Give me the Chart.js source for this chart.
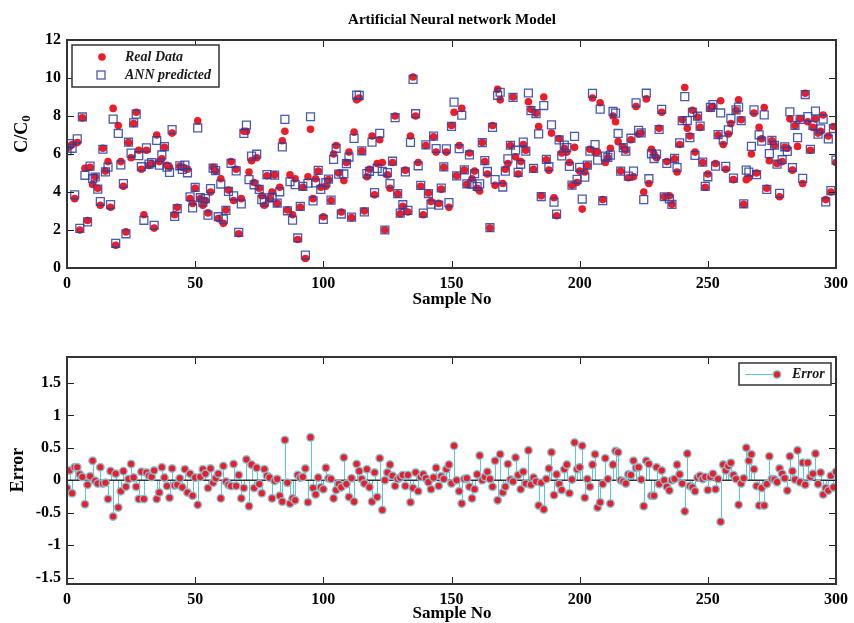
<!DOCTYPE html>
<html>
<head>
<meta charset="utf-8">
<title>Artificial Neural network Model</title>
<script src="https://cdn.jsdelivr.net/npm/chart.js@4.4.0/dist/chart.umd.min.js"></script>
<style>
  body { margin: 0; background: #fff; }
  #wrap { position: relative; width: 854px; height: 623px; overflow: hidden; }
  canvas { position: absolute; left: 0; }
  #topChart { top: 0; }
  #errChart { top: 315px; }
</style>
</head>
<body>
<div id="wrap">
  <canvas id="topChart" width="854" height="315"></canvas>
  <canvas id="errChart" width="854" height="308"></canvas>
</div>
<script>
// Sample numbers (x axis)
const sampleNo = Array.from({ length: 301 }, (_, i) => i);

// Measured C/C0 values (red markers)
const realData = [
  6.3, 6.4, 6.5, 3.65, 6.6, 2.0, 7.9, 5.25, 2.5, 5.3,
  4.4, 4.8, 4.2, 3.3, 6.3, 5.1, 5.6, 3.2, 8.4, 1.2,
  7.5, 5.6, 4.3, 1.9, 6.6, 5.8, 7.6, 8.2, 6.2, 5.2,
  2.8, 6.2, 5.4, 5.5, 2.1, 7.0, 5.6, 5.75, 6.35, 5.4,
  5.3, 7.1, 2.8, 3.2, 5.35, 5.3, 5.25, 5.2, 3.65, 3.4,
  4.2, 7.75, 3.65, 3.3, 3.55, 2.9, 4.0, 5.3, 5.1, 2.6,
  4.7, 2.35, 3.05, 4.1, 5.6, 3.55, 5.2, 1.8, 3.65, 7.2,
  7.2, 5.05, 5.65, 4.5, 5.8, 4.2, 3.8, 3.3, 4.85, 3.65,
  4.0, 4.9, 3.4, 4.25, 6.7, 7.2, 3.05, 4.9, 2.8, 4.7,
  1.5, 3.2, 4.25, 0.5, 4.8, 7.3, 3.65, 4.7, 5.1, 4.25,
  2.7, 4.3, 4.65, 3.55, 6.0, 6.45, 5.0, 2.95, 4.6, 5.55,
  6.1, 2.65, 7.15, 8.85, 8.95, 6.15, 3.0, 4.8, 5.2, 6.95,
  3.85, 5.5, 6.75, 5.55, 2.0, 4.9, 4.2, 5.55, 8.0, 3.9,
  2.85, 3.25, 5.15, 2.95, 6.95, 10.05, 8.0, 5.55, 4.3, 2.8,
  6.45, 3.95, 3.5, 6.9, 6.1, 3.4, 4.15, 5.3, 6.1, 3.2,
  7.5, 8.2, 4.85, 6.45, 8.4, 5.15, 4.4, 6.05, 4.7, 5.1,
  4.2, 4.05, 6.6, 5.6, 4.95, 2.1, 7.5, 4.35, 9.4, 8.85,
  4.45, 5.2, 5.5, 6.45, 9.0, 5.85, 4.95, 5.6, 6.5, 6.2,
  8.75, 8.35, 5.2, 8.15, 7.45, 3.8, 9.0, 5.7, 5.15, 7.1,
  3.7, 2.75, 6.8, 6.05, 6.3, 6.1, 5.55, 4.35, 6.35, 4.5,
  5.1, 3.1, 5.05, 5.4, 6.25, 8.95, 6.1, 6.1, 8.7, 3.6,
  5.55, 5.8, 6.3, 8.0, 7.7, 6.65, 5.1, 6.35, 6.2, 4.75,
  6.75, 4.8, 8.5, 7.05, 7.1, 4.0, 8.9, 4.45, 6.25, 6.0,
  5.8, 7.35, 8.2, 3.75, 5.6, 3.8, 3.35, 5.75, 5.05, 6.5,
  7.8, 9.5, 7.35, 6.95, 8.3, 6.1, 7.95, 7.4, 5.55, 4.25,
  4.95, 8.4, 8.5, 5.5, 7.0, 8.8, 6.5, 5.2, 7.05, 7.6,
  4.65, 8.3, 8.85, 7.8, 3.35, 4.65, 4.75, 6.0, 8.15, 5.0,
  7.4, 6.8, 8.45, 4.2, 5.65, 6.7, 6.45, 5.5, 3.75, 5.6,
  6.35, 6.3, 7.85, 5.15, 7.5, 6.4, 7.85, 4.45, 9.2, 7.7,
  6.2, 7.4, 7.85, 7.1, 7.2, 8.05, 3.6, 6.95, 4.0, 7.45, 5.55
];

// ANN predicted C/C0 values (blue squares)
const annPredicted = [
  6.18, 6.55, 6.3, 3.85, 6.8, 2.09, 7.95, 4.88, 2.43, 5.36,
  4.7, 4.79, 4.15, 3.5, 6.25, 5.06, 5.31, 3.34, 7.84, 1.3,
  7.08, 5.43, 4.44, 1.8, 6.62, 6.05, 7.64, 8.1, 5.91, 5.33,
  2.51, 6.32, 5.47, 5.55, 2.25, 6.71, 5.41, 5.95, 6.39, 5.31,
  5.03, 7.28, 2.72, 3.13, 5.38, 5.19, 5.42, 5.01, 3.75, 3.16,
  4.24, 7.37, 3.7, 3.47, 3.65, 2.78, 4.18, 5.26, 5.13, 2.7,
  4.42, 2.57, 3.03, 4.03, 5.51, 3.8, 5.11, 1.88, 3.37, 7.08,
  7.52, 4.65, 5.89, 4.38, 5.99, 4.14, 3.6, 3.47, 4.92, 3.69,
  3.72, 4.89, 3.42, 4.01, 6.37, 7.82, 3.01, 4.54, 2.52, 4.39,
  1.58, 3.24, 4.3, 0.68, 4.46, 7.96, 3.53, 4.48, 5.14, 4.14,
  2.56, 4.49, 4.68, 3.57, 5.72, 6.3, 4.94, 2.84, 4.95, 5.49,
  5.84, 2.68, 6.82, 9.1, 9.09, 6.17, 2.95, 4.97, 5.09, 6.62,
  3.97, 5.24, 7.09, 5.09, 2.0, 5.02, 4.44, 5.62, 7.91, 3.92,
  2.89, 3.33, 5.06, 3.03, 6.61, 9.93, 8.12, 5.38, 4.35, 2.89,
  6.48, 3.92, 3.36, 6.94, 6.29, 3.31, 4.21, 5.32, 6.27, 3.44,
  7.45, 8.73, 4.85, 6.28, 8.04, 5.17, 4.43, 5.95, 4.42, 4.96,
  4.29, 4.43, 6.6, 5.65, 5.08, 2.12, 7.4, 4.65, 9.09, 9.25,
  4.26, 5.1, 5.75, 6.46, 8.98, 6.2, 5.03, 5.46, 6.63, 6.15,
  9.21, 8.28, 5.24, 8.13, 7.06, 3.76, 8.55, 5.72, 5.33, 7.53,
  3.47, 2.84, 6.74, 5.9, 6.47, 6.34, 5.35, 4.36, 6.93, 4.67,
  5.3, 3.63, 4.78, 5.42, 6.15, 9.19, 6.5, 5.68, 8.36, 3.54,
  5.89, 5.82, 5.94, 8.24, 8.15, 7.08, 5.1, 6.33, 6.15, 4.84,
  6.83, 5.1, 8.69, 7.25, 7.11, 3.6, 9.2, 4.7, 6.01, 5.76,
  6.0, 7.29, 8.35, 3.75, 5.5, 3.64, 3.35, 5.77, 5.29, 6.59,
  7.75, 9.02, 7.76, 6.86, 8.19, 5.93, 7.99, 7.47, 5.57, 4.3,
  4.8, 8.45, 8.6, 5.36, 7.02, 8.16, 6.74, 5.35, 7.27, 7.87,
  4.73, 8.32, 8.47, 7.75, 3.38, 5.15, 5.05, 6.4, 8.32, 4.91,
  7.01, 6.68, 8.06, 4.14, 6.02, 6.72, 6.46, 5.47, 3.93, 5.7,
  6.38, 6.14, 8.22, 5.29, 7.51, 6.86, 7.82, 4.72, 9.13, 7.97,
  6.25, 7.5, 8.26, 7.04, 7.32, 7.83, 3.48, 6.79, 4.07, 7.34, 5.68
];

// Prediction error (lower panel)
const errorValues = [
  -0.12, 0.15, -0.2, 0.2, 0.2, 0.09, 0.05, -0.37, -0.07, 0.06,
  0.3, -0.01, -0.05, 0.2, -0.05, -0.04, -0.29, 0.14, -0.56, 0.1,
  -0.42, -0.17, 0.14, -0.1, 0.02, 0.25, 0.04, -0.1, -0.29, 0.13,
  -0.29, 0.12, 0.07, 0.05, 0.15, -0.29, -0.19, 0.2, 0.04, -0.09,
  -0.27, 0.18, -0.08, -0.07, 0.03, -0.11, 0.17, -0.19, 0.1, -0.24,
  0.04, -0.38, 0.05, 0.17, 0.1, -0.12, 0.18, -0.04, 0.03, 0.1,
  -0.28, 0.22, -0.02, -0.07, -0.09, 0.25, -0.09, 0.08, -0.28, -0.12,
  0.32, -0.4, 0.24, -0.12, 0.19, -0.06, -0.2, 0.17, 0.07, 0.04,
  -0.28, -0.01, 0.02, -0.24, -0.33, 0.62, -0.04, -0.36, -0.28, -0.31,
  0.08, 0.04, 0.05, 0.18, -0.34, 0.66, -0.12, -0.22, 0.04, -0.11,
  -0.14, 0.19, 0.03, 0.02, -0.28, -0.15, -0.06, -0.11, 0.35, -0.06,
  -0.26, 0.03, -0.33, 0.25, 0.14, 0.02, -0.05, 0.17, -0.11, -0.33,
  0.12, -0.26, 0.34, -0.46, 0.0, 0.12, 0.24, 0.07, -0.09, 0.02,
  0.04, 0.08, -0.09, 0.08, -0.34, -0.12, 0.12, -0.17, 0.05, 0.09,
  0.03, -0.03, -0.14, 0.04, 0.19, -0.09, 0.06, 0.02, 0.17, 0.24,
  -0.05, 0.53, 0.0, -0.17, -0.36, 0.02, 0.03, -0.1, -0.28, -0.14,
  0.09, 0.38, 0.0, 0.05, 0.13, 0.02, -0.1, 0.3, -0.31, 0.4,
  -0.19, -0.1, 0.25, 0.01, -0.02, 0.35, 0.08, -0.14, 0.13, -0.05,
  0.46, -0.07, 0.04, -0.02, -0.39, -0.04, -0.45, 0.02, 0.18, 0.43,
  -0.23, 0.09, -0.06, -0.15, 0.17, 0.24, -0.2, 0.01, 0.58, 0.17,
  0.2, 0.53, -0.27, 0.02, -0.1, 0.24, 0.4, -0.42, -0.34, -0.06,
  0.34, 0.02, -0.36, 0.24, 0.45, 0.43, 0.0, -0.02, -0.05, 0.09,
  0.08, 0.3, 0.19, 0.2, 0.01, -0.4, 0.3, 0.25, -0.24, -0.24,
  0.2, -0.06, 0.15, 0.0, -0.1, -0.16, 0.0, 0.02, 0.24, 0.09,
  -0.05, -0.48, 0.41, -0.09, -0.11, -0.17, 0.04, 0.07, 0.02, 0.05,
  -0.15, 0.05, 0.1, -0.14, 0.02, -0.64, 0.24, 0.15, 0.22, 0.27,
  0.08, 0.02, -0.38, -0.05, 0.03, 0.5, 0.3, 0.4, 0.17, -0.09,
  -0.39, -0.12, -0.39, -0.06, 0.37, 0.02, 0.01, -0.03, 0.18, 0.1,
  0.03, -0.16, 0.37, 0.14, 0.01, 0.46, -0.03, 0.27, -0.07, 0.27,
  0.05, 0.1, 0.41, -0.06, 0.12, -0.22, -0.12, -0.16, 0.07, -0.11, 0.13
];

// Tick labels
const xTicks = [0, 50, 100, 150, 200, 250, 300];
const topYTicks = [0, 2, 4, 6, 8, 10, 12];
const errYTicks = [-1.5, -1, -0.5, 0, 0.5, 1, 1.5];

const FONT = '"Liberation Serif", "Times New Roman", serif';
const RED = '#ec1c28';
const BLUE = 'rgba(40, 62, 160, 0.85)';
const CYAN = '#5ec6d6';

function toPoints(values) {
    return values.map((v, i) => ({ x: sampleNo[i], y: v }));
}

// Eje con ticks fijos, sin rejilla (el marco se dibuja aparte)
function axis(min, max, ticks, size, isX) {
    return {
        type: 'linear',
        min: min,
        max: max,
        afterBuildTicks: s => { s.ticks = ticks.map(v => ({ value: v })); },
        afterFit: s => { if (isX) { s.height = size; } else { s.width = size; } },
        grid: { display: false, drawTicks: false },
        border: { display: false },
        ticks: {
            color: '#000',
            padding: 6,
            maxRotation: 0,
            autoSkip: false,
            font: { family: FONT, size: 16, weight: 'bold' },
            callback: v => String(v)
        }
    };
}

// Marco tipo MATLAB con marcas hacia dentro
function drawFrame(chart, xVals, yVals) {
    const ctx = chart.ctx;
    const a = chart.chartArea;
    const xs = chart.scales.x;
    const ys = chart.scales.y;
    ctx.save();
    ctx.strokeStyle = '#222';
    ctx.lineWidth = 1;
    ctx.beginPath();
    xVals.forEach(v => {
        const p = Math.round(xs.getPixelForValue(v)) + 0.5;
        ctx.moveTo(p, a.bottom); ctx.lineTo(p, a.bottom - 7);
        ctx.moveTo(p, a.top); ctx.lineTo(p, a.top + 7);
    });
    yVals.forEach(v => {
        const p = Math.round(ys.getPixelForValue(v)) + 0.5;
        ctx.moveTo(a.left, p); ctx.lineTo(a.left + 7, p);
        ctx.moveTo(a.right, p); ctx.lineTo(a.right - 7, p);
    });
    ctx.stroke();
    ctx.lineWidth = 2;
    ctx.strokeStyle = '#333';
    ctx.strokeRect(a.left, a.top, a.right - a.left, a.bottom - a.top);
    ctx.restore();
}

function rotatedLabel(ctx, text, x, y, sub) {
    ctx.save();
    ctx.translate(x, y);
    ctx.rotate(-Math.PI / 2);
    ctx.fillStyle = '#000';
    ctx.textBaseline = 'middle';
    ctx.textAlign = 'left';
    ctx.font = 'bold 18px ' + FONT;
    const w = ctx.measureText(text).width;
    let sw = 0;
    if (sub) {
        ctx.font = 'bold 13px ' + FONT;
        sw = ctx.measureText(sub).width;
    }
    const start = -(w + sw) / 2;
    ctx.font = 'bold 18px ' + FONT;
    ctx.fillText(text, start, 0);
    if (sub) {
        ctx.font = 'bold 13px ' + FONT;
        ctx.fillText(sub, start + w, 5);
    }
    ctx.restore();
}

const topDecor = {
    id: 'topDecor',
    afterDraw(chart) {
        const ctx = chart.ctx;
        drawFrame(chart, xTicks, topYTicks);
        ctx.save();
        ctx.fillStyle = '#000';
        ctx.textAlign = 'center';
        ctx.textBaseline = 'middle';
        ctx.font = 'bold 15px ' + FONT;
        ctx.fillText('Artificial Neural network Model', 452, 20);
        ctx.font = 'bold 17px ' + FONT;
        ctx.fillText('Sample No', 452, 300);
        ctx.restore();
        rotatedLabel(ctx, 'C/C', 22, 134, '0');

        // Leyenda
        ctx.save();
        ctx.fillStyle = '#fff';
        ctx.fillRect(72, 45, 147, 42);
        ctx.strokeStyle = '#333';
        ctx.lineWidth = 1.5;
        ctx.strokeRect(72, 45, 147, 42);
        ctx.fillStyle = RED;
        ctx.beginPath();
        ctx.arc(102, 57, 3.8, 0, Math.PI * 2);
        ctx.fill();
        ctx.strokeStyle = BLUE;
        ctx.lineWidth = 1.3;
        ctx.strokeRect(97, 71, 8, 8);
        ctx.fillStyle = '#1a1a1a';
        ctx.font = 'italic bold 14px ' + FONT;
        ctx.textAlign = 'left';
        ctx.textBaseline = 'middle';
        ctx.fillText('Real Data', 125, 57);
        ctx.fillText('ANN predicted', 125, 75);
        ctx.restore();
    }
};

const errDecor = {
    id: 'errDecor',
    beforeDatasetsDraw(chart) {
        const ctx = chart.ctx;
        const xs = chart.scales.x;
        const ys = chart.scales.y;
        const a = chart.chartArea;
        const y0 = ys.getPixelForValue(0);
        ctx.save();
        ctx.strokeStyle = CYAN;
        ctx.lineWidth = 1;
        ctx.beginPath();
        errorValues.forEach((e, i) => {
            const px = Math.round(xs.getPixelForValue(sampleNo[i])) + 0.5;
            ctx.moveTo(px, y0);
            ctx.lineTo(px, ys.getPixelForValue(e));
        });
        ctx.stroke();
        ctx.strokeStyle = '#333';
        ctx.lineWidth = 1.5;
        ctx.beginPath();
        ctx.moveTo(a.left, y0);
        ctx.lineTo(a.right, y0);
        ctx.stroke();
        ctx.restore();
    },
    afterDraw(chart) {
        const ctx = chart.ctx;
        drawFrame(chart, xTicks, errYTicks);
        ctx.save();
        ctx.fillStyle = '#000';
        ctx.textAlign = 'center';
        ctx.textBaseline = 'middle';
        ctx.font = 'bold 17px ' + FONT;
        ctx.fillText('Sample No', 452, 299);
        ctx.restore();
        rotatedLabel(ctx, 'Error', 18, 155);

        // Leyenda
        ctx.save();
        ctx.fillStyle = '#fff';
        ctx.fillRect(739, 48, 92, 22);
        ctx.strokeStyle = '#333';
        ctx.lineWidth = 1.5;
        ctx.strokeRect(739, 48, 92, 22);
        ctx.strokeStyle = CYAN;
        ctx.lineWidth = 1;
        ctx.beginPath();
        ctx.moveTo(745, 59.5);
        ctx.lineTo(776, 59.5);
        ctx.stroke();
        ctx.fillStyle = RED;
        ctx.strokeStyle = 'rgba(130, 195, 215, 0.9)';
        ctx.lineWidth = 1.5;
        ctx.beginPath();
        ctx.arc(777, 59.5, 3.8, 0, Math.PI * 2);
        ctx.fill();
        ctx.stroke();
        ctx.fillStyle = '#1a1a1a';
        ctx.font = 'italic bold 14px ' + FONT;
        ctx.textAlign = 'left';
        ctx.textBaseline = 'middle';
        ctx.fillText('Error', 792, 59.5);
        ctx.restore();
    }
};

new Chart(document.getElementById('topChart'), {
    type: 'scatter',
    data: {
        datasets: [
            {
                label: 'Real Data',
                data: toPoints(realData),
                pointStyle: 'circle',
                pointRadius: 3.8,
                backgroundColor: RED,
                borderWidth: 0,
                order: 2
            },
            {
                label: 'ANN predicted',
                data: toPoints(annPredicted),
                pointStyle: 'rect',
                pointRadius: 5.6,
                backgroundColor: 'rgba(0,0,0,0)',
                borderColor: BLUE,
                borderWidth: 1.3,
                order: 1
            }
        ]
    },
    options: {
        responsive: false,
        animation: false,
        devicePixelRatio: 1,
        layout: { padding: { top: 40, right: 16, left: 0, bottom: 0 } },
        plugins: { legend: { display: false }, tooltip: { enabled: false } },
        scales: {
            x: axis(0, 300, xTicks, 47, true),
            y: axis(0, 12, topYTicks, 67, false)
        }
    },
    plugins: [topDecor]
});

new Chart(document.getElementById('errChart'), {
    type: 'scatter',
    data: {
        datasets: [
            {
                label: 'Error',
                data: toPoints(errorValues),
                pointStyle: 'circle',
                pointRadius: 3.8,
                backgroundColor: RED,
                borderColor: 'rgba(130, 195, 215, 0.9)',
                borderWidth: 1.5
            }
        ]
    },
    options: {
        responsive: false,
        animation: false,
        devicePixelRatio: 1,
        layout: { padding: { top: 42, right: 16, left: 0, bottom: 0 } },
        plugins: { legend: { display: false }, tooltip: { enabled: false } },
        scales: {
            x: axis(0, 300, xTicks, 39, true),
            y: axis(-1.6, 1.9, errYTicks, 67, false)
        }
    },
    plugins: [errDecor]
});
</script>
</body>
</html>
